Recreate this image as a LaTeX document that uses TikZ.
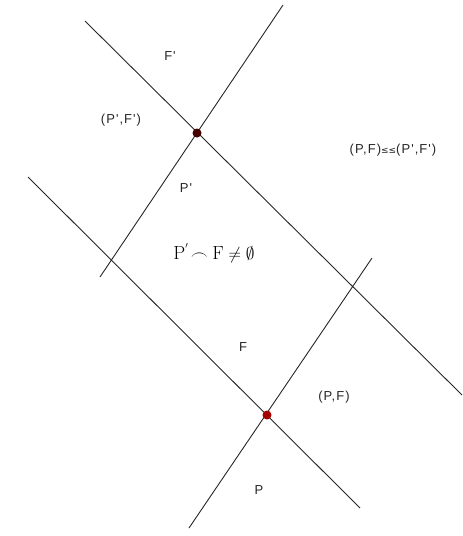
\documentclass[tikz,border=0pt]{standalone}
\usepackage{fontspec}
\setmainfont{Latin Modern Roman}
\newfontfamily\lbl[LetterSpace=8]{Liberation Sans}
\newfontfamily\symf{DejaVu Sans}
\begin{document}
\begin{tikzpicture}[x=1pt,y=-1pt,
  ln/.style={draw=black!85, line width=0.9pt},
  dotA/.style={circle, fill=black!20!red!35!black, inner sep=0pt, minimum size=9pt},
  dotB/.style={circle, fill=red!65!black, inner sep=0pt, minimum size=9pt},
  lab/.style={font=\lbl\fontsize{13}{15}\selectfont, inner sep=0pt, text=black!85}]
\useasboundingbox (0,0) rectangle (463,536);
% line endpoints
\coordinate (a1) at (85,21);   \coordinate (a2) at (462,395);
\coordinate (c1) at (283,5);   \coordinate (c2) at (100,277);
\coordinate (b1) at (28,177);  \coordinate (b2) at (360,508);
\coordinate (d1) at (372,258); \coordinate (d2) at (189,528);
\draw[ln] (a1) -- (a2);
\draw[ln] (c1) -- (c2);
\draw[ln] (b1) -- (b2);
\draw[ln] (d1) -- (d2);
\node[dotA] (up) at (197,133) {};
\node[dotB] (lo) at (267,415) {};
% labels
\node[lab] (fp) at (170,56) {F'};
\node[lab] (pfp) at (121,120) {(P',F')};
\node[lab] (pp) at (186,188) {P'};
\node[lab] (f) at (243,347) {F};
\node[lab] (pf) at (334,397) {(P,F)};
\node[lab] (p) at (259,490) {P};
\node[lab] (rel) at (393,150) {(P,F){\symf\fontsize{9}{10}\selectfont ≤≤}(P',F')};
\node[inner sep=0pt, font=\fontsize{19}{22}\selectfont] (meet) at (214,253) {$\mathrm{P}^{'}\!\frown\mathrm{F}\neq\emptyset$};
\end{tikzpicture}
\end{document}
